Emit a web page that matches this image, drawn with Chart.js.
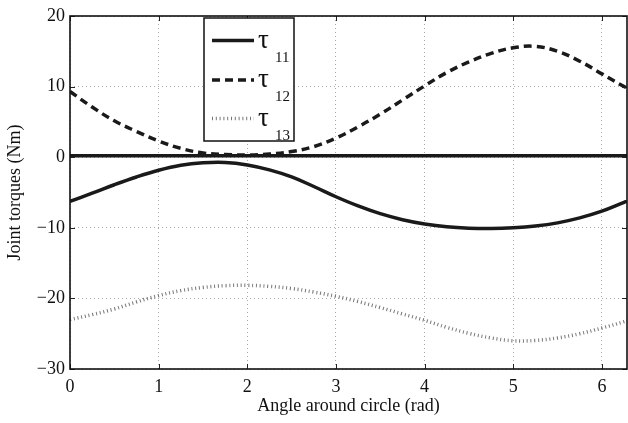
<!DOCTYPE html>
<html><head><meta charset="utf-8">
<script src="https://cdn.jsdelivr.net/npm/chart.js@4/dist/chart.umd.min.js"></script>
<style>html,body{margin:0;padding:0;background:#fff}#wrap{width:628px;height:423px;position:relative}</style>
</head><body><div id="wrap"><canvas id="c" width="628" height="423"></canvas></div>
<script>
const angles = [0,0.25,0.5,0.75,1,1.25,1.5,1.75,2,2.25,2.5,2.75,3,3.25,3.5,3.75,4,4.25,4.5,4.75,5,5.25,5.5,5.75,6,6.25,6.2832];
const tau11 = [-6.25,-5.1,-3.9,-2.8,-1.85,-1.15,-0.8,-0.75,-1.1,-1.8,-2.8,-4.15,-5.6,-6.9,-8.0,-8.85,-9.45,-9.85,-10.05,-10.1,-10.0,-9.75,-9.3,-8.6,-7.65,-6.4,-6.25];
const tau12 = [9.3,7.1,5.15,3.65,2.3,1.25,0.6,0.38,0.3,0.45,0.8,1.5,2.7,4.3,6.1,8.1,10.1,12.0,13.5,14.7,15.5,15.7,15.0,13.6,11.8,10.0,9.8];
const tau13 = [-23.0,-22.3,-21.5,-20.5,-19.6,-18.9,-18.45,-18.2,-18.15,-18.3,-18.6,-19.1,-19.7,-20.45,-21.3,-22.2,-23.1,-24.1,-24.95,-25.6,-26.0,-25.95,-25.6,-25.0,-24.2,-23.3,-23.1];
const zeroLine = [0.2,0.2,0.2,0.2,0.2,0.2,0.2,0.2,0.2,0.2,0.2,0.2,0.2,0.2,0.2,0.2,0.2,0.2,0.2,0.2,0.2,0.2,0.2,0.2,0.2,0.2,0.2];
const xTicks = [0,1,2,3,4,5,6];
const yTicks = [-30,-20,-10,0,10,20];
const seriesNames = ['τ11','τ12','τ13'];
const xTitle = 'Angle around circle (rad)';
const yTitle = 'Joint torques (Nm)';

const FONT = "'Liberation Serif','Times New Roman',serif";
const pts = arr => angles.map((a,i)=>({x:a,y:arr[i]}));

const framePlugin = {
  id:'frame',
  afterDatasetsDraw(chart){
    const {ctx, chartArea:ca, scales} = chart;
    ctx.save();
    ctx.strokeStyle = '#222'; ctx.lineWidth = 1;
    ctx.beginPath();
    xTicks.forEach(v=>{
      const px = Math.round(scales.x.getPixelForValue(v))+0.5;
      ctx.moveTo(px, ca.bottom); ctx.lineTo(px, ca.bottom-5);
      ctx.moveTo(px, ca.top); ctx.lineTo(px, ca.top+5);
    });
    yTicks.forEach(v=>{
      const py = Math.round(scales.y.getPixelForValue(v))+0.5;
      ctx.moveTo(ca.left, py); ctx.lineTo(ca.left+5, py);
      ctx.moveTo(ca.right, py); ctx.lineTo(ca.right-5, py);
    });
    ctx.stroke();
    ctx.strokeStyle = '#111'; ctx.lineWidth = 1.6;
    ctx.strokeRect(ca.left, ca.top, ca.right-ca.left, ca.bottom-ca.top);
    const lx = 204, ly = 18, lw = 90, lh = 123;
    ctx.fillStyle = '#fff';
    ctx.fillRect(lx, ly, lw, lh);
    ctx.strokeStyle = '#111'; ctx.lineWidth = 1.5;
    ctx.strokeRect(lx, ly, lw, lh);
    const rows = [40.5, 80, 118.5];
    const ds = chart.data.datasets.slice(1);
    rows.forEach((ry,i)=>{
      const d = ds[i];
      ctx.save();
      ctx.strokeStyle = d.borderColor; ctx.lineWidth = d.borderWidth;
      ctx.setLineDash(d.borderDash || []);
      ctx.beginPath(); ctx.moveTo(212, ry); ctx.lineTo(254, ry); ctx.stroke();
      ctx.restore();
      ctx.fillStyle = '#111';
      ctx.textBaseline = 'alphabetic'; ctx.textAlign = 'left';
      ctx.font = '27px ' + FONT;
      ctx.fillText(seriesNames[i].charAt(0), 258, ry+7);
      ctx.font = '15px ' + FONT;
      ctx.fillText(seriesNames[i].slice(1), 275, ry+21);
    });
    ctx.restore();
  }
};

new Chart(document.getElementById('c'), {
  type:'line',
  data:{datasets:[
    {label:'zero', data:pts(zeroLine), borderColor:'#1a1a1a', borderWidth:3.5, pointRadius:0, tension:0},
    {label:seriesNames[0], data:pts(tau11), borderColor:'#1a1a1a', borderWidth:3.5, pointRadius:0, tension:0.4},
    {label:seriesNames[1], data:pts(tau12), borderColor:'#1a1a1a', borderWidth:3.5, borderDash:[8,5], pointRadius:0, tension:0.4},
    {label:seriesNames[2], data:pts(tau13), borderColor:'#777', borderWidth:3.5, borderDash:[1,2.8], pointRadius:0, tension:0.4}
  ]},
  options:{
    responsive:false, animation:false, devicePixelRatio:1,
    layout:{padding:{left:0, right:1, top:16, bottom:0}},
    plugins:{legend:{display:false}, tooltip:{enabled:false}},
    scales:{
      x:{type:'linear', min:0, max:6.2832,
        afterBuildTicks:s=>{s.ticks = xTicks.map(v=>({value:v}));},
        afterFit:s=>{s.height = 54;},
        ticks:{padding:7, color:'#111', font:{family:FONT, size:18}, includeBounds:false, maxRotation:0},
        grid:{color:'#aaa', lineWidth:1, drawTicks:false},
        border:{display:false, dash:[1,3]},
        title:{display:true, text:xTitle, color:'#111', font:{family:FONT, size:18}, padding:{top:0,bottom:6}}
      },
      y:{type:'linear', min:-30, max:20,
        afterBuildTicks:s=>{s.ticks = yTicks.map(v=>({value:v}));},
        afterFit:s=>{s.width = 70;},
        ticks:{padding:5, color:'#111', font:{family:FONT, size:18}, includeBounds:false,
          callback:v=> v<0 ? '\u2212'+Math.abs(v) : String(v)},
        grid:{color:'#aaa', lineWidth:1, drawTicks:false},
        border:{display:false, dash:[1,3]},
        title:{display:true, text:yTitle, color:'#111', font:{family:FONT, size:18}, padding:{top:4,bottom:0}}
      }
    }
  },
  plugins:[framePlugin]
});
</script></body></html>
